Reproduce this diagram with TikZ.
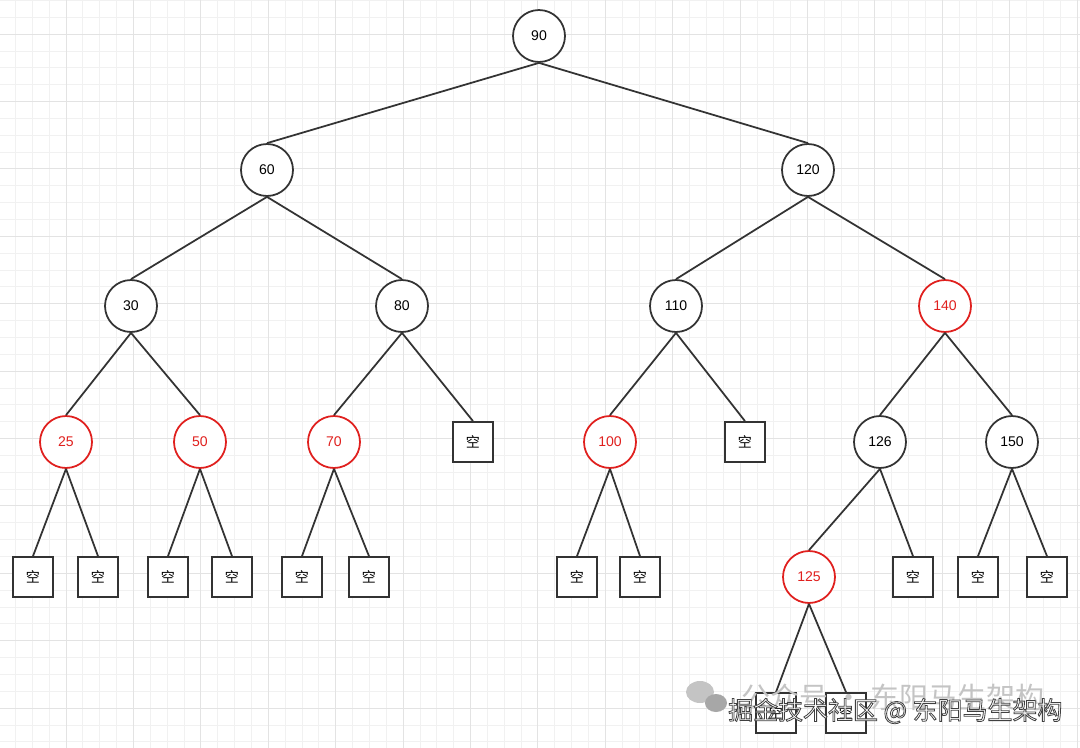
\documentclass[tikz,border=0pt]{standalone}
\usepackage{fontspec}
\setmainfont{Liberation Sans}
\newfontfamily\cjkfont{Noto Sans CJK SC}
\usepackage{tikz}
\usetikzlibrary{positioning}
\definecolor{linecol}{HTML}{333333}
\definecolor{redcol}{HTML}{E0201E}
\definecolor{gridminor}{HTML}{F1F1F1}
\definecolor{gridmajor}{HTML}{E3E3E3}
\definecolor{wmcol}{HTML}{C4C4C4}

\begin{document}
\begin{tikzpicture}[
  x=0.02cm, y=-0.02cm,
  font=\fontsize{8}{9}\selectfont,
  blk/.style={circle, draw=linecol, line width=1pt, fill=white,
              minimum size=1.04cm, inner sep=0pt},
  red/.style={blk, draw=redcol, text=redcol},
  nil/.style={draw=linecol, line width=1pt, fill=white,
              minimum size=0.8cm, inner sep=0pt, font=\cjkfont\fontsize{8}{9}\selectfont},
  edge/.style={draw=linecol, line width=1pt}
]

\useasboundingbox (0,0) rectangle (1080,748);

%% ── Background grid ───────────────────────────────────────────────────────
\fill[white] (0,0) rectangle (1080,748);
\foreach \i in {0,...,64}
  \draw[gridminor, line width=0.4pt] ({-1.4+\i*16.85},0) -- ({-1.4+\i*16.85},748);
\foreach \i in {2,...,46}
  \draw[gridminor, line width=0.4pt] (0,{-33.4+\i*16.85}) -- (1080,{-33.4+\i*16.85});
\foreach \i in {1,...,16}
  \draw[gridmajor, line width=0.5pt] ({-1.4+\i*67.4},0) -- ({-1.4+\i*67.4},748);
\foreach \i in {1,...,11}
  \draw[gridmajor, line width=0.5pt] (0,{-33.4+\i*67.4}) -- (1080,{-33.4+\i*67.4});

%% ── Level 0 / 1 ───────────────────────────────────────────────────────────
\node[blk] (n90)  at (539, 36)  {90};
\node[blk] (n60)  at (267, 170) {60};
\node[blk] (n120) at (808, 170) {120};

%% ── Level 2 ───────────────────────────────────────────────────────────────
\node[blk] (n30)  at (131, 306) {30};
\node[blk] (n80)  at (402, 306) {80};
\node[blk] (n110) at (676, 306) {110};
\node[red] (n140) at (945, 306) {140};

%% ── Level 3 ───────────────────────────────────────────────────────────────
\node[red] (n25)  at (66, 442)   {25};
\node[red] (n50)  at (200, 442)  {50};
\node[red] (n70)  at (334, 442)  {70};
\node[nil] (e1)   at (473, 442)  {空};
\node[red] (n100) at (610, 442)  {100};
\node[nil] (e2)   at (745, 442)  {空};
\node[blk] (n126) at (880, 442)  {126};
\node[blk] (n150) at (1012, 442) {150};

%% ── Level 4 ───────────────────────────────────────────────────────────────
\node[nil] (e3)   at (33, 577)   {空};
\node[nil] (e4)   at (98, 577)   {空};
\node[nil] (e5)   at (168, 577)  {空};
\node[nil] (e6)   at (232, 577)  {空};
\node[nil] (e7)   at (302, 577)  {空};
\node[nil] (e8)   at (369, 577)  {空};
\node[nil] (e9)   at (577, 577)  {空};
\node[nil] (e10)  at (640, 577)  {空};
\node[red] (n125) at (809, 577)  {125};
\node[nil] (e11)  at (913, 577)  {空};
\node[nil] (e12)  at (978, 577)  {空};
\node[nil] (e13)  at (1047, 577) {空};

%% ── Level 5 ───────────────────────────────────────────────────────────────
\node[nil] (e14)  at (776, 713)  {空};
\node[nil] (e15)  at (846, 713)  {空};

%% ── Edges ─────────────────────────────────────────────────────────────────
\foreach \a/\b in {n90/n60, n90/n120, n60/n30, n60/n80, n120/n110, n120/n140,
                   n30/n25, n30/n50, n80/n70, n80/e1, n110/n100, n110/e2,
                   n140/n126, n140/n150, n25/e3, n25/e4, n50/e5, n50/e6,
                   n70/e7, n70/e8, n100/e9, n100/e10, n126/n125, n126/e11,
                   n150/e12, n150/e13, n125/e14, n125/e15}
  \draw[edge] (\a.south) -- (\b.north);

%% ── Watermark ─────────────────────────────────────────────────────────────
\fill[wmcol] (700, 692) ellipse (14 and 11);
\fill[wmcol!85!black] (716, 703) ellipse (11 and 9);
\node[font=\cjkfont\fontsize{16.5}{18}\selectfont, text=wmcol, anchor=west]
      (wm1) at (735, 697) {公众号 · 东阳马生架构};
\node[font=\cjkfont\fontsize{14.2}{16}\selectfont, text=white, anchor=west]
      (wm2) at (722, 711)
      {\special{pdf:literal direct 2 Tr 0.45 w 0.25 G}掘金技术社区 @ 东阳马生架构\special{pdf:literal direct 0 Tr}};

\end{tikzpicture}
\end{document}
